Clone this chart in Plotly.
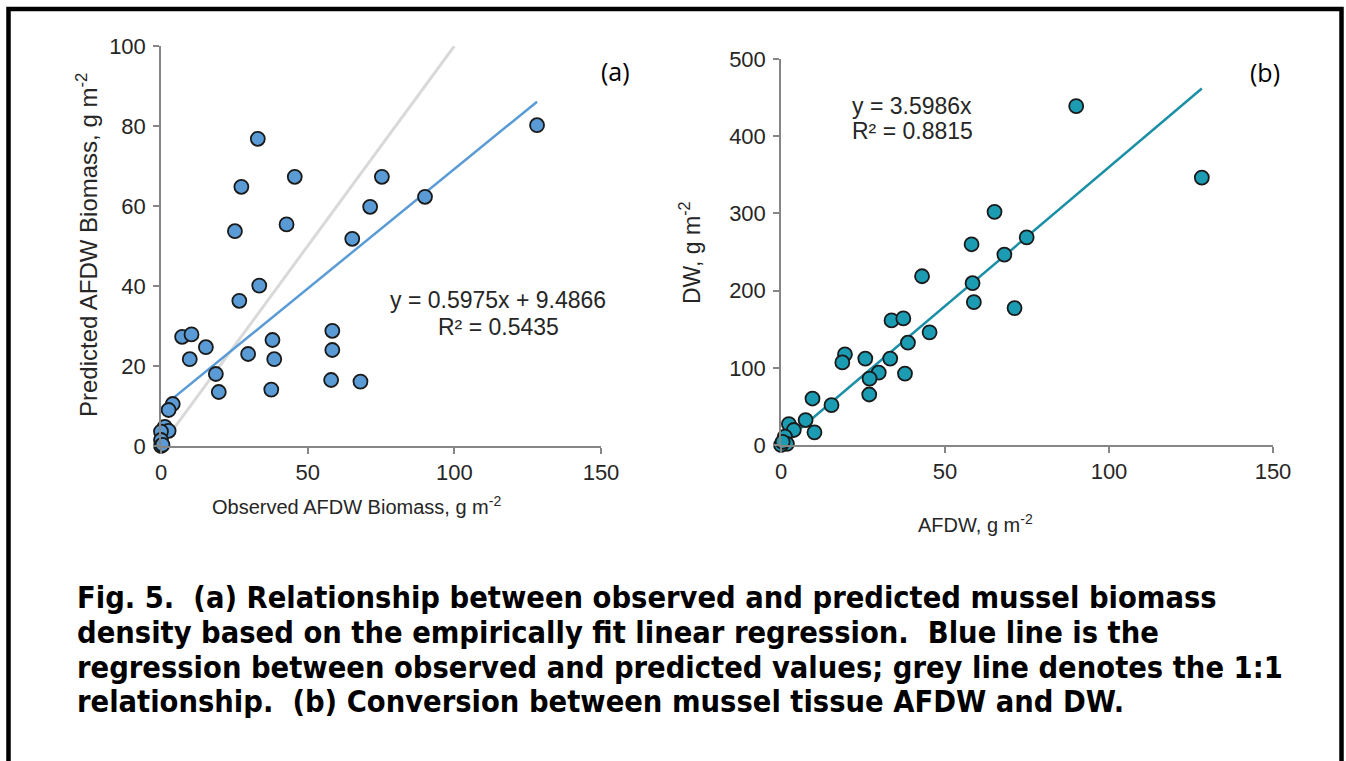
import plotly.graph_objects as go

# ---- Panel (a): observed vs predicted AFDW biomass ----
a_observed = [128.2, 33.0, 45.6, 75.3, 27.4, 90.0, 71.3, 42.8, 25.2, 65.2, 33.5, 26.7,
              58.4, 7.2, 10.4, 38.0, 58.4, 15.3, 29.7, 9.8, 38.6, 18.7, 19.7, 37.6,
              58.0, 68.0, 4.0, 2.6, 1.3, 2.6, 0.0, 0.0, 0.0, 0.5]
a_predicted = [80.2, 76.8, 67.3, 67.3, 64.8, 62.3, 59.8, 55.4, 53.7, 51.8, 40.1, 36.3,
               28.8, 27.3, 27.9, 26.5, 24.0, 24.7, 23.0, 21.7, 21.7, 18.0, 13.5, 14.1,
               16.5, 16.1, 10.5, 9.0, 4.8, 3.8, 3.6, 1.5, 0.0, 0.3]
a_slope, a_intercept = 0.5975, 9.4866
a_one_to_one = [0, 100]

# ---- Panel (b): AFDW vs DW ----
b_afdw = [128.3, 90.0, 65.1, 74.9, 58.1, 68.1, 43.0, 58.4, 58.8, 71.2, 33.7, 37.3,
          45.3, 38.7, 19.5, 18.7, 25.7, 33.3, 29.8, 37.8, 27.0, 26.9, 9.6, 15.4,
          7.5, 10.2, 2.4, 3.9, 1.2, 1.8, 0.0, 0.5]
b_dw = [346.4, 438.9, 302.0, 269.0, 260.0, 246.6, 218.6, 209.6, 185.0, 177.3, 161.4, 164.0,
        145.9, 132.5, 117.5, 107.0, 111.9, 111.9, 93.8, 92.5, 86.0, 65.4, 60.2, 51.6,
        32.3, 16.4, 27.1, 19.4, 10.8, 1.5, 0.0, 4.0]
b_slope = 3.5986

caption_lines = [
    "Fig. 5.\u00a0 (a) Relationship between observed and predicted mussel biomass",
    "density based on the empirically fit linear regression.\u00a0 Blue line is the",
    "regression between observed and predicted values; grey line denotes the 1:1",
    "relationship.\u00a0 (b) Conversion between mussel tissue AFDW and DW.",
]

W, H = 1346, 761
def px(x):
    return x / W
def py(y):
    return 1 - y / H

BLUE = "#5b9bd5"
TEAL_LINE = "#1a8fa6"
TEAL_FILL = "#1b9cb3"
AXIS = "#868686"
TXT = "#262626"
FONT = "Liberation Sans, Arial, sans-serif"

fig = go.Figure()

# panel a
fig.add_trace(go.Scatter(x=a_one_to_one, y=a_one_to_one, mode="lines",
                         line=dict(color="#d9d9d9", width=3), xaxis="x", yaxis="y",
                         showlegend=False, hoverinfo="skip"))
a_xfit = [0, max(a_observed)]
fig.add_trace(go.Scatter(x=a_xfit, y=[a_slope * v + a_intercept for v in a_xfit], mode="lines",
                         line=dict(color=BLUE, width=2.5), xaxis="x", yaxis="y",
                         showlegend=False))
fig.add_trace(go.Scatter(x=a_observed, y=a_predicted, mode="markers",
                         marker=dict(size=14, color=BLUE, line=dict(color="#1a1a1a", width=1.8)),
                         xaxis="x", yaxis="y", showlegend=False, cliponaxis=False))

# panel b
b_xfit = [0, max(b_afdw)]
fig.add_trace(go.Scatter(x=b_xfit, y=[b_slope * v for v in b_xfit], mode="lines",
                         line=dict(color=TEAL_LINE, width=2.5), xaxis="x2", yaxis="y2",
                         showlegend=False))
fig.add_trace(go.Scatter(x=b_afdw, y=b_dw, mode="markers",
                         marker=dict(size=14, color=TEAL_FILL, line=dict(color="#1a1a1a", width=1.8)),
                         xaxis="x2", yaxis="y2", showlegend=False, cliponaxis=False))

axis_common = dict(showgrid=False, zeroline=False, showline=True, linecolor=AXIS, linewidth=1.5,
                   ticks="outside", ticklen=6, tickcolor=AXIS, tickwidth=1.5, automargin=False,
                   tickfont=dict(family=FONT, size=22, color=TXT))

fig.update_layout(
    width=W, height=H, margin=dict(l=0, r=0, t=0, b=0, pad=0, autoexpand=False),
    paper_bgcolor="white", plot_bgcolor="white",
    xaxis=dict(domain=[px(161), px(601)], range=[0, 150], tickvals=[0, 50, 100, 150],
               anchor="y", **axis_common),
    yaxis=dict(domain=[py(446), py(46)], range=[0, 100], tickvals=[0, 20, 40, 60, 80, 100],
               anchor="x", ticklabelstandoff=3, **axis_common),
    xaxis2=dict(domain=[px(781), px(1273)], range=[0, 150], tickvals=[0, 50, 100, 150],
                anchor="y2", **axis_common),
    yaxis2=dict(domain=[py(445), py(59)], range=[0, 500], tickvals=[0, 100, 200, 300, 400, 500],
                anchor="x2", ticklabelstandoff=3, **axis_common),
)

ann = []
def add(text, x, y, size, xanchor="center", yanchor="middle", angle=0, family=FONT,
        color=TXT, xref="paper", yref="paper"):
    ann.append(dict(text=text, x=x, y=y, xref=xref, yref=yref, showarrow=False,
                    xanchor=xanchor, yanchor=yanchor, textangle=angle,
                    font=dict(family=family, size=size, color=color)))

# axis titles
add("Predicted AFDW Biomass, g m<sup>-2</sup>", px(87), py(245), 24, angle=-90)
add("Observed AFDW Biomass, g m<sup>-2</sup>", px(356), py(506), 20)
add("DW, g m<sup>-2</sup>", px(690), py(252), 23, angle=-90)
add("AFDW, g m<sup>-2</sup>", px(975), py(523), 20)

# panel labels
add("(a)", px(615), py(71), 25, family="Open Sans, Lato, sans-serif", color="black")
add("(b)", px(1265), py(72), 25, family="Open Sans, Lato, sans-serif", color="black")

# regression equations
add("y = 0.5975x + 9.4866", 115, 36.5, 23, xref="x", yref="y")
add("R² = 0.5435", 115, 29.8, 23, xref="x", yref="y")
add("y = 3.5986x", 21.1, 438.9, 23, xanchor="left", xref="x2", yref="y2")
add("R² = 0.8815", 21.1, 406.6, 23, xanchor="left", xref="x2", yref="y2")

# caption
cap_y = [597, 632, 667, 701]
for line, yy in zip(caption_lines, cap_y):
    add("<b>" + line + "</b>", px(75), py(yy), 30.5, xanchor="left",
        family="DejaVu Sans Condensed, DejaVu Sans, sans-serif", color="black")

fig.update_layout(annotations=ann)

# outer frame
fig.add_shape(type="rect", xref="paper", yref="paper",
              x0=px(8.5), x1=px(1341.5), y0=-0.2, y1=py(9),
              line=dict(color="black", width=4.5), fillcolor="rgba(0,0,0,0)")

fig.write_html("out.html", config={"displayModeBar": False},
               post_script="document.body.style.margin='0';document.body.style.overflow='hidden';")
